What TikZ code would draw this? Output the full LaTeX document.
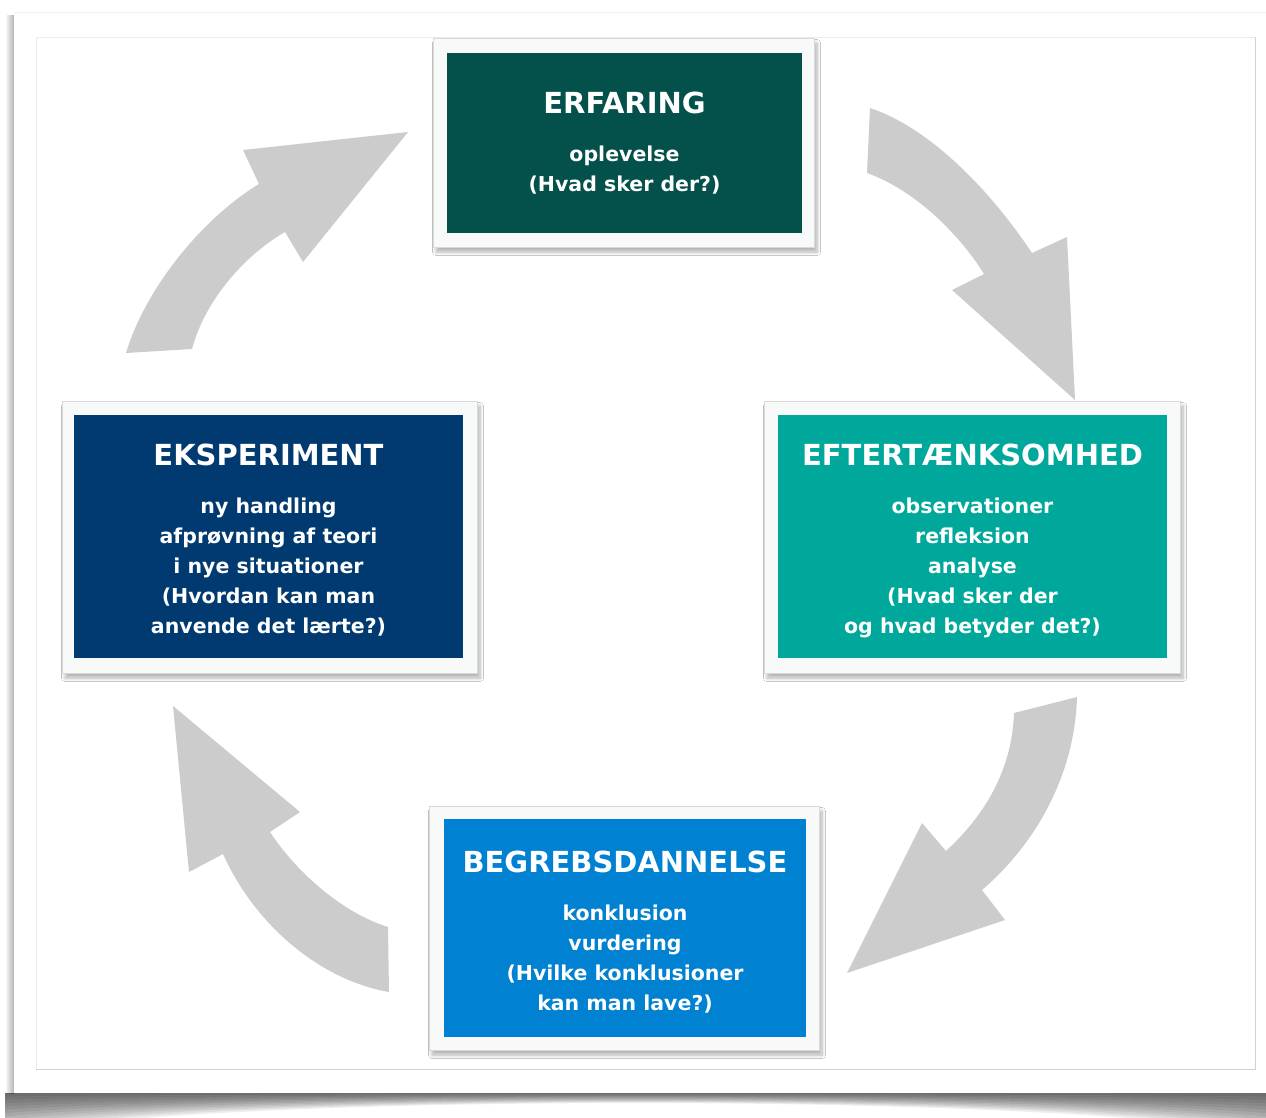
\documentclass[tikz,border=0pt]{standalone}
\usepackage{fontspec}
\setmainfont{DejaVu Sans}
\usetikzlibrary{shadows.blur}

\definecolor{cErf}{RGB}{3,81,74}
\definecolor{cEks}{RGB}{0,58,112}
\definecolor{cEft}{RGB}{0,168,156}
\definecolor{cBeg}{RGB}{0,129,209}
\definecolor{arrowgray}{RGB}{204,204,204}
\definecolor{framewhite}{RGB}{248,250,250}

\newcommand{\boxtitle}[1]{{\fontsize{29}{30}\selectfont #1}\\[18pt]}

\begin{document}
\begin{tikzpicture}[x=1pt,y=-1pt,
  frame/.style={rectangle, fill=framewhite, draw=gray!30, line width=0.7pt,
    inner sep=0pt,
    blur shadow={shadow xshift=3pt, shadow yshift=-5pt, shadow opacity=30,
      shadow blur steps=8, shadow blur radius=3.5pt}},
  card/.style={rectangle, draw=none, inner sep=0pt, text=white, align=center,
    font=\bfseries\fontsize{20.5}{30}\selectfont},
  blockarrow/.style={fill=arrowgray, draw=none}]

\useasboundingbox (0,0) rectangle (1266,1118);

% page, its left shadow and the curled shadow under its lower edge
\fill[white] (0,0) rectangle (1266,1118);
\shade[left color=white, right color=gray!60] (5,16) rectangle (14,1093);
\begin{scope}
  \clip (5,1093) rectangle (1266,1118);
  \foreach \i in {1,...,12} {
    \fill[black, opacity=0.065] (5,1093) -- (1266,1093)
      -- (1266,{1093+40*\i/12}) .. controls (1020,1093) and (250,1093)
      .. (5,{1093+40*\i/12}) -- cycle;
  }
\end{scope}
\fill[white] (14,12) rectangle (1266,1093);
\draw[gray!12, line width=0.8pt] (14,12.5) -- (1266,12.5);

% inner panel
\draw[gray!15, line width=0.8pt] (36,1069) |- (1255,37);
\draw[gray!35, line width=1pt] (36,1069) -| (1255,37);

% block arrows of the cycle
\fill[blockarrow] (870,108) .. controls (930,128) and (990,190) .. (1032,253)
  -- (1067,237) -- (1075,400) -- (952,290) -- (984,274)
  .. controls (960,235) and (915,190) .. (867,173) -- cycle;
\fill[blockarrow] (1077,697) .. controls (1075,770) and (1040,840) .. (982,890)
  -- (1005,920) -- (847,973) -- (922,823) -- (946,851)
  .. controls (985,815) and (1012,770) .. (1014,713) -- cycle;
\fill[blockarrow] (389,992) .. controls (320,980) and (255,925) .. (223,854)
  -- (189,872) -- (173,706) -- (300,812) -- (270,832)
  .. controls (295,870) and (340,912) .. (388,927) -- cycle;
\fill[blockarrow] (126,353) .. controls (145,290) and (200,220) .. (259,184)
  -- (243,150) -- (408,132) -- (303,262) -- (285,232)
  .. controls (245,255) and (205,300) .. (192,349) -- cycle;

% ERFARING
\node[frame, minimum width=381pt, minimum height=209pt] (erfFrame) at (623.5,142.5) {};
\node[card, fill=cErf, minimum width=355pt, minimum height=180pt] (erf) at (624.5,143)
  {\boxtitle{ERFARING}oplevelse\\(Hvad sker der?)};

% EKSPERIMENT
\node[frame, minimum width=415pt, minimum height=272pt] (eksFrame) at (269.5,537) {};
\node[card, fill=cEks, minimum width=389pt, minimum height=243pt] (eks) at (268.5,536.5) {};
\node[card, anchor=center] (eksText) at ([yshift=-4pt]eks.center)
  {\boxtitle{EKSPERIMENT}ny handling\\afprøvning af teori\\i nye situationer\\(Hvordan kan man\\anvende det lærte?)};

% EFTERTÆNKSOMHED
\node[frame, minimum width=416pt, minimum height=272pt] (eftFrame) at (972,537) {};
\node[card, fill=cEft, minimum width=389pt, minimum height=243pt] (eft) at (972.5,536.5) {};
\node[card, anchor=center] (eftText) at ([yshift=-4pt]eft.center)
  {\boxtitle{EFTERTÆNKSOMHED}observationer\\refleksion\\analyse\\(Hvad sker der\\og hvad betyder det?)};

% BEGREBSDANNELSE
\node[frame, minimum width=390pt, minimum height=244pt] (begFrame) at (624,928) {};
\node[card, fill=cBeg, minimum width=362pt, minimum height=218pt] (beg) at (625,928) {};
\node[card, anchor=center] (begText) at ([yshift=-4pt]beg.center)
  {\boxtitle{BEGREBSDANNELSE}konklusion\\vurdering\\(Hvilke konklusioner\\kan man lave?)};

\end{tikzpicture}
\end{document}
